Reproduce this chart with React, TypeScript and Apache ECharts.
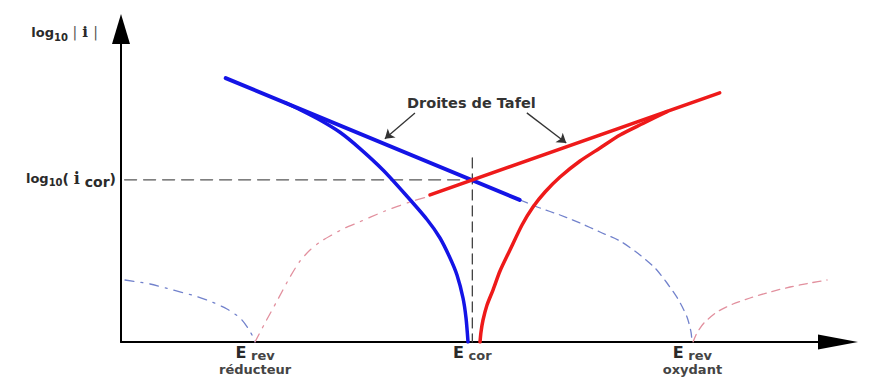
import { useEffect, useRef } from 'react';
import * as echarts from 'echarts';

const FONT = 'DejaVu Sans';
const INK = '#2a2a2a';

// Characteristic potentials and the corrosion current level
const E_REV_RED = 18.7;
const E_COR = 49.0;
const E_REV_OX = 79.7;
const LOG_ICOR = 51.8;

const xTickValues = [E_REV_RED, E_COR, E_REV_OX];
const xTickLabels = [
  '{E|E}{s| rev}\n{n|réducteur}',
  '{E|E}{s| cor}',
  '{E|E}{s| rev}\n{n|oxydant}',
];

// Tafel straight lines (cathodic in blue, anodic in red)
const tafelCathodic = [[14.6, 84.3], [55.6, 45.4]];
const tafelAnodic = [[43.1, 47.0], [83.5, 79.6]];

// Measured polarisation branches around E_cor
const cathodicBranch = [
  [22.87, 76.52], [24.97, 74.22], [27.75, 70.93], [30.54, 67.0], [33.33, 61.79],
  [36.54, 54.95], [39.61, 47.28], [42.68, 39.14], [44.49, 33.23], [45.89, 26.84],
  [46.86, 21.41], [47.7, 14.06], [48.12, 7.67], [48.4, 0],
];
const anodicBranch = [
  [50.07, 0], [50.21, 3.19], [50.49, 7.03], [51.05, 11.82], [51.88, 16.61],
  [52.86, 22.68], [54.25, 29.39], [55.93, 37.38], [57.46, 43.13], [59.14, 47.92],
  [61.23, 52.72], [64.02, 57.83], [66.81, 61.98], [69.6, 66.13], [72.8, 69.81],
  [76.15, 73.61],
];

// Partial currents of each redox couple around its own reversible potential
const reducerCathodic = [
  [0.56, 19.81], [4.04, 18.53], [7.25, 16.61], [10.32, 14.7], [12.69, 12.78],
  [14.78, 10.54], [16.6, 7.67], [17.71, 4.47], [18.41, 1.6], [18.69, 0],
];
const reducerAnodic = [
  [18.69, 0], [20.08, 6.07], [21.76, 13.1], [23.57, 20.77], [24.97, 25.88],
  [26.36, 29.39], [27.75, 31.95], [29.15, 33.87], [31.24, 36.42], [32.91, 38.02],
  [36.82, 41.85], [40.31, 44.73], [43.1, 46.65],
];
const oxidantCathodic = [
  [55.65, 45.37], [58.44, 42.81], [61.23, 40.58], [64.02, 38.02], [66.81, 35.14],
  [69.6, 32.27], [72.38, 27.8], [74.48, 23.64], [76.15, 18.85], [77.68, 13.74],
  [78.94, 7.99], [79.5, 3.19], [79.64, 0],
];
const oxidantAnodic = [
  [79.78, 0], [80.33, 2.88], [81.31, 6.07], [83.12, 9.58], [85.36, 12.14],
  [87.73, 14.06], [90.52, 15.97], [93.31, 17.57], [96.09, 18.85], [98.47, 19.81],
];

// Guide lines through the corrosion point
const icorGuide = [[0.5, LOG_ICOR], [E_COR, LOG_ICOR]];
const ecorGuide = [[E_COR, 58.8], [E_COR, 0]];

// Annotation arrows pointing at both Tafel lines
const tafelPointers = [
  [[41.0, 73.2], [36.8, 64.9]],
  [[56.6, 73.2], [62.1, 63.6]],
];

const BLUE = '#1414e6';
const RED = '#ee1a1a';

function curve(data: number[][], color: string, width: number, type: any, smooth = 0.25, z = 3) {
  return {
    type: 'line',
    data,
    showSymbol: false,
    smooth,
    z,
    lineStyle: { color, width, type, cap: 'round', join: 'round' },
  };
}

export default function App() {
  const ref = useRef<HTMLDivElement>(null);

  useEffect(() => {
    const chart = echarts.init(ref.current!, null, { renderer: 'svg' });
    chart.setOption({
      animation: false,
      backgroundColor: '#ffffff',
      grid: { left: 121, right: 34, top: 29, bottom: 38, outerBoundsMode: 'none' },
      xAxis: {
        type: 'value',
        min: 0,
        max: 100,
        splitLine: { show: false },
        axisTick: { show: false },
        axisLine: {
          onZero: false,
          symbol: ['none', 'triangle'],
          symbolSize: [15, 40],
          lineStyle: { color: '#000', width: 2 },
        },
        axisLabel: {
          customValues: xTickValues,
          margin: 3,
          color: INK,
          formatter: (v: number) => {
            let best = 0;
            xTickValues.forEach((t, i) => {
              if (Math.abs(t - v) < Math.abs(xTickValues[best] - v)) best = i;
            });
            return xTickLabels[best];
          },
          rich: {
            E: { fontFamily: FONT, fontSize: 16, lineHeight: 17, fontWeight: 'bold', color: INK, verticalAlign: 'bottom', padding: [0, 0, 2, 0] },
            s: { fontFamily: FONT, fontSize: 13, lineHeight: 15, fontWeight: 'bold', color: '#444', verticalAlign: 'bottom' },
            n: { fontFamily: FONT, fontSize: 13, fontWeight: 'bold', color: '#444', lineHeight: 14 },
          },
        },
      },
      yAxis: {
        type: 'value',
        min: 0,
        max: 100,
        splitLine: { show: false },
        axisTick: { show: false },
        axisLine: {
          onZero: false,
          symbol: ['none', 'triangle'],
          symbolSize: [18, 30],
          lineStyle: { color: '#000', width: 2 },
        },
        name: '{l|log}{d|10}{b| |}{i| i }{b||}',
        nameLocation: 'end',
        nameGap: -4,
        nameTextStyle: {
          align: 'right',
          verticalAlign: 'middle',
          padding: [0, 23, 0, 0],
          rich: {
            l: { fontFamily: FONT, fontSize: 13, fontWeight: 'bold', color: INK, verticalAlign: 'bottom', padding: [0, 0, 3, 0] },
            d: { fontFamily: FONT, fontSize: 10, fontWeight: 'bold', color: INK, verticalAlign: 'bottom' },
            b: { fontFamily: FONT, fontSize: 14, color: '#555', verticalAlign: 'bottom', padding: [0, 0, 3, 0] },
            i: { fontFamily: 'DejaVu Serif', fontSize: 15, fontWeight: 'bold', color: INK, verticalAlign: 'bottom', padding: [0, 0, 3, 0] },
          },
        },
        axisLabel: {
          customValues: [LOG_ICOR],
          margin: 5,
          formatter: () => '{l|log}{d|10}{p|( }{i|i}{c| cor}{p|)}',
          rich: {
            l: { fontFamily: FONT, fontSize: 13, fontWeight: 'bold', color: INK, verticalAlign: 'bottom', padding: [0, 0, 4, 0] },
            d: { fontFamily: FONT, fontSize: 10, fontWeight: 'bold', color: INK, verticalAlign: 'bottom', padding: [0, 0, 1, 0] },
            p: { fontFamily: FONT, fontSize: 14, fontWeight: 'bold', color: INK, verticalAlign: 'bottom', padding: [0, 0, 3, 0] },
            i: { fontFamily: 'DejaVu Serif', fontSize: 16, fontWeight: 'bold', color: INK, verticalAlign: 'bottom', padding: [0, 0, 2, 0] },
            c: { fontFamily: FONT, fontSize: 14, fontWeight: 'bold', color: INK, verticalAlign: 'bottom' },
          },
        },
      },
      graphic: [
        {
          type: 'text',
          left: 407,
          top: 95,
          style: { text: 'Droites de Tafel', font: `bold 14.5px "${FONT}"`, fill: '#333' },
        },
      ],
      series: [
        curve(icorGuide, '#555', 1.3, [12, 7], 0, 1),
        curve(ecorGuide, '#444', 1.3, [10, 6], 0, 1),
        curve(reducerCathodic, '#7282cc', 1.3, [9, 7, 2, 7], 0.25, 2),
        curve(reducerAnodic, '#e2909e', 1.3, [9, 7, 2, 7], 0.25, 2),
        curve(oxidantCathodic, '#7282cc', 1.3, [8, 6], 0.25, 2),
        curve(oxidantAnodic, '#e2909e', 1.3, [8, 6], 0.25, 2),
        curve(tafelCathodic, BLUE, 4, 'solid', 0, 4),
        curve(tafelAnodic, RED, 3.5, 'solid', 0, 4),
        curve(cathodicBranch, BLUE, 3.5, 'solid', 0.25, 4),
        curve(anodicBranch, RED, 3.5, 'solid', 0.25, 4),
        {
          type: 'lines',
          coordinateSystem: 'cartesian2d',
          z: 5,
          symbol: ['none', 'arrow'],
          symbolSize: 9,
          lineStyle: { color: '#333', width: 1.3, opacity: 1 },
          data: tafelPointers.map((coords) => ({ coords })),
        },
      ],
    });
    return () => chart.dispose();
  }, []);

  return (
    <div
      ref={ref}
      style={{ position: 'fixed', left: 0, top: 0, width: 872, height: 380, background: '#fff' }}
    />
  );
}
